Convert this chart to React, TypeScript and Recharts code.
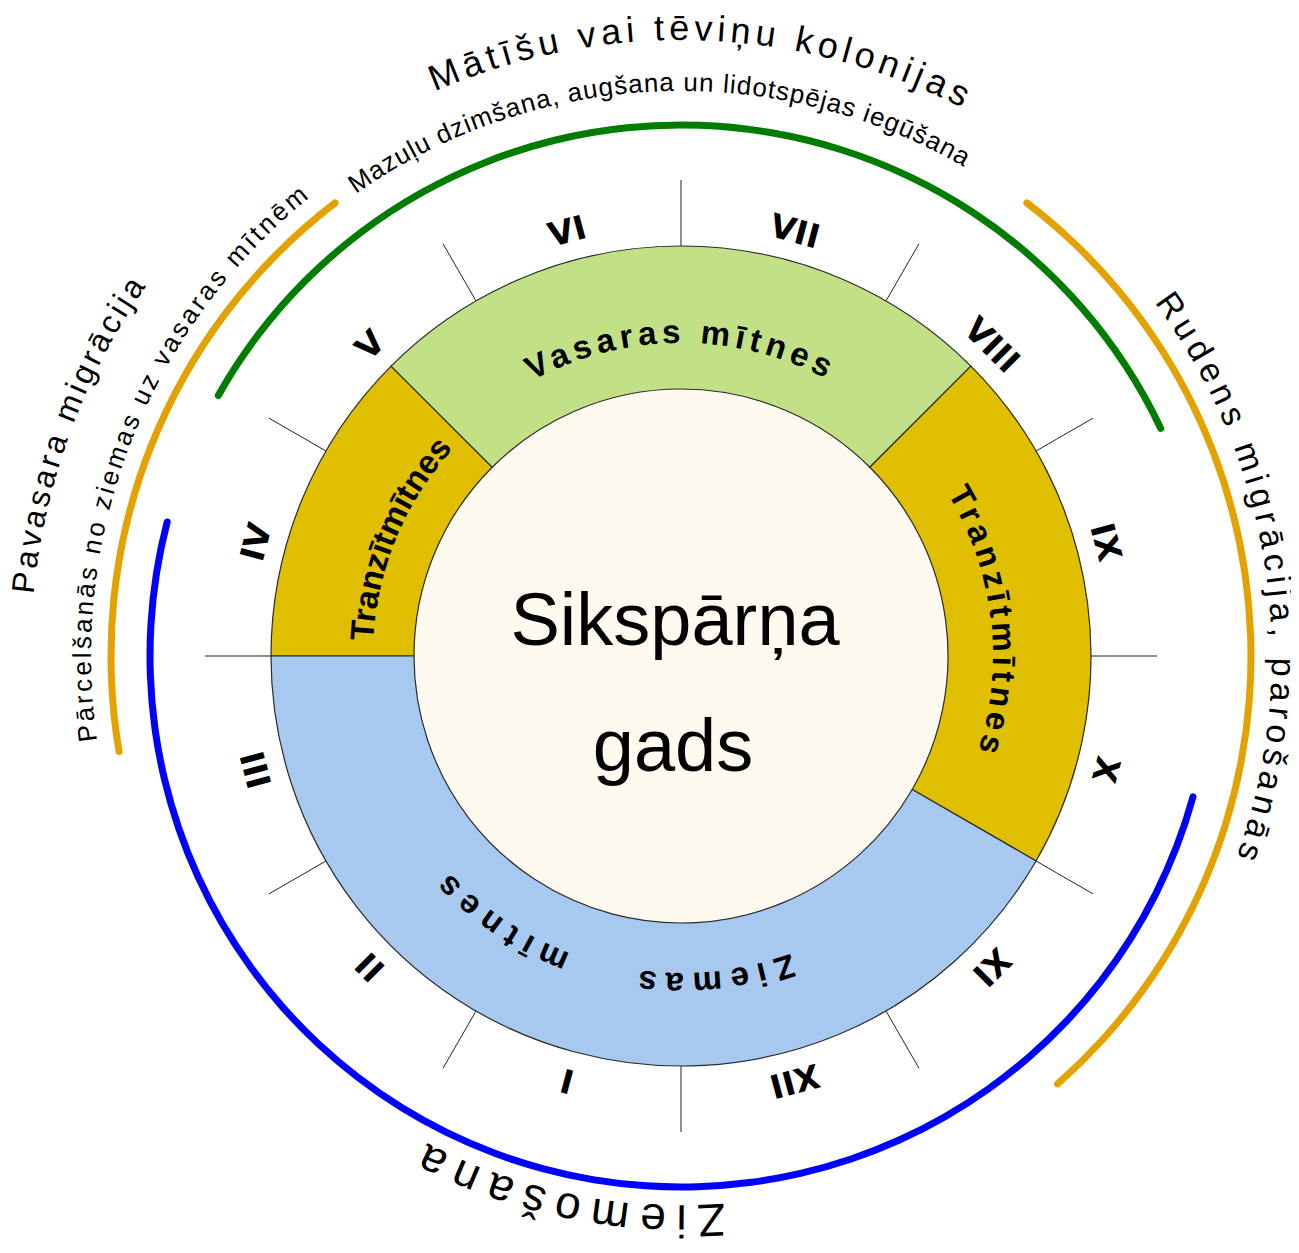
import React from "react";
import { PieChart, Pie, Cell } from "recharts";

// habitat ring, clockwise from the left horizontal
const habitatNames = ["Tranzītmītnes", "Vasaras mītnes", "Tranzītmītnes", "Ziemas mītnes"];
const habitatDegrees = [45, 90, 75, 150];

const monthNames = ["I", "II", "III", "IV", "V", "VI", "VII", "VIII", "IX", "X", "XI", "XII"];

// inner activity arcs, clockwise from the colony arc; "" = gap
const activityNames = ["Mātīšu vai tēviņu kolonijas", "", "Ziemošana", ""];
const activityNotes = ["Mazuļu dzimšana, augšana un lidotspējas iegūšana", "", "", ""];
const activityDegrees = [126, 40, 180, 14];

// outer migration arcs, clockwise from the autumn arc; "" = gap
const migrationNames = ["Rudens migrācija, pārošanās", "", "Pavasara migrācija", ""];
const migrationNotes = ["", "", "Pārcelšanās no ziemas uz vasaras mītnēm", ""];
const migrationDegrees = [102, 121, 63, 74];

const centerTitle = ["Sikspārņa", "gads"];

const W = 1299;
const H = 1253;
const CX = 681;
const CY = 656;
const RAD = Math.PI / 180;
const SANS = "'Liberation Sans', Arial, sans-serif";
const DEJA = "'DejaVu Sans', Verdana, sans-serif";

const habitatColors = ["#DFBF00", "#C2E085", "#DFBF00", "#A7C9EF"];
const activityColors = ["#007D00", "none", "#0000FF", "none"];
const migrationColors = ["#E3A200", "none", "#E3A200", "none"];

// text styles per arc index
const habitatText = [
  { rc: 318, fs: 33, ls: 0, ws: 0, shift: 0 },
  { rc: 323, fs: 33, ls: 5, ws: 0, shift: 0 },
  { rc: 322, fs: 33, ls: 4.5, ws: 0, shift: -1 },
  { rc: 327, fs: 33, ls: 8, ws: 46, shift: 1 },
];
const activityText = [
  { rc: 627, fs: 36, ls: 4.8, shift: 0, noteRc: 573, noteFs: 26, noteLs: 1, noteShift: 4.5 },
  null,
  { rc: 563, fs: 46, ls: 10, shift: 3 },
  null,
];
const migrationText = [
  { rc: 601, fs: 34, ls: 5.5, shift: 6.2 },
  null,
  { rc: 660, fs: 32, ls: 3.5, shift: 1.3, noteRc: 598, noteFs: 26, noteLs: 3, noteShift: 0 },
  null,
];

const polar = (cx: number, cy: number, r: number, a: number) => ({
  x: cx + r * Math.cos(-a * RAD),
  y: cy + r * Math.sin(-a * RAD),
});

// clockwise arc path centred on angle `mid`
function cwArc(cx: number, cy: number, r: number, mid: number) {
  const p1 = polar(cx, cy, r, mid + 90);
  const p2 = polar(cx, cy, r, mid - 90);
  return `M ${p1.x} ${p1.y} A ${r} ${r} 0 0 1 ${p2.x} ${p2.y}`;
}

function ArcText(props: any) {
  const { id, cx, cy, rc, mid, text, fs, ls = 0, ws = 0, family = SANS, weight = "normal" } = props;
  const r = rc - fs * 0.3;
  return (
    <g>
      <path id={id} d={cwArc(cx, cy, r, mid)} fill="none" stroke="none" />
      <text
        fontFamily={family}
        fontWeight={weight}
        fontSize={fs}
        letterSpacing={ls}
        wordSpacing={ws}
        fill="#000"
      >
        <textPath href={`#${id}`} startOffset="50%" textAnchor="middle">
          {text}
        </textPath>
      </text>
    </g>
  );
}

const renderHabitatLabel = (p: any) => {
  const s = habitatText[p.index];
  return (
    <ArcText
      id={`habitat-${p.index}`}
      cx={p.cx}
      cy={p.cy}
      rc={s.rc}
      mid={p.midAngle + s.shift}
      text={habitatNames[p.index]}
      fs={s.fs}
      ls={s.ls}
      ws={s.ws}
      weight="bold"
    />
  );
};

const renderMonthLabel = (p: any) => {
  const a = polar(p.cx, p.cy, p.innerRadius, p.startAngle);
  const b = polar(p.cx, p.cy, p.outerRadius, p.startAngle);
  const t = polar(p.cx, p.cy, p.innerRadius + 30, p.midAngle);
  return (
    <g>
      <line x1={a.x} y1={a.y} x2={b.x} y2={b.y} stroke="#222" strokeWidth={1} />
      <text
        x={t.x}
        y={t.y}
        transform={`rotate(${90 - p.midAngle} ${t.x} ${t.y})`}
        textAnchor="middle"
        dominantBaseline="central"
        fontFamily={DEJA}
        fontWeight="bold"
        fontSize={33}
        fill="#000"
      >
        {monthNames[p.index]}
      </text>
    </g>
  );
};

const makeArcLabel = (prefix: string, names: string[], notes: string[], styles: any[]) => (p: any) => {
  const s = styles[p.index];
  if (!s || !names[p.index]) return <g />;
  return (
    <g>
      <ArcText
        id={`${prefix}-${p.index}`}
        cx={p.cx}
        cy={p.cy}
        rc={s.rc}
        mid={p.midAngle + s.shift}
        text={names[p.index]}
        fs={s.fs}
        ls={s.ls}
      />
      {notes[p.index] ? (
        <ArcText
          id={`${prefix}-note-${p.index}`}
          cx={p.cx}
          cy={p.cy}
          rc={s.noteRc}
          mid={p.midAngle + s.noteShift}
          text={notes[p.index]}
          fs={s.noteFs}
          ls={s.noteLs}
        />
      ) : null}
    </g>
  );
};

const renderCenterLabel = (p: any) => (
  <g fontFamily={SANS} fontSize={74} fill="#000" textAnchor="middle">
    <text x={p.cx - 6} y={p.cy - 11}>
      {centerTitle[0]}
    </text>
    <text x={p.cx - 8} y={p.cy + 115}>
      {centerTitle[1]}
    </text>
  </g>
);

export default function App() {
  const habitatData = habitatNames.map((name, i) => ({ name, value: habitatDegrees[i] }));
  const monthData = monthNames.map((name) => ({ name, value: 1 }));
  const activityData = activityNames.map((name, i) => ({ name, value: activityDegrees[i] }));
  const migrationData = migrationNames.map((name, i) => ({ name, value: migrationDegrees[i] }));
  const centerData = [{ name: centerTitle.join(" "), value: 1 }];

  return (
    <div style={{ width: W, height: H, margin: -8, background: "#fff" }}>
      <PieChart width={W} height={H} margin={{ top: 0, right: 0, bottom: 0, left: 0 }}>
        <Pie
          data={centerData}
          dataKey="value"
          cx={CX}
          cy={CY}
          innerRadius={0}
          outerRadius={267}
          fill="#FFFAF0"
          stroke="none"
          isAnimationActive={false}
          label={renderCenterLabel}
          labelLine={false}
        />
        <Pie
          data={habitatData}
          dataKey="value"
          nameKey="name"
          cx={CX}
          cy={CY}
          innerRadius={267}
          outerRadius={410}
          startAngle={180}
          endAngle={-180}
          stroke="#2a2a2a"
          strokeWidth={1.2}
          isAnimationActive={false}
          label={renderHabitatLabel}
          labelLine={false}
        >
          {habitatData.map((d, i) => (
            <Cell key={d.name + i} fill={habitatColors[i]} />
          ))}
        </Pie>
        <Pie
          data={monthData}
          dataKey="value"
          cx={CX}
          cy={CY}
          innerRadius={410}
          outerRadius={476}
          startAngle={270}
          endAngle={-90}
          fill="none"
          stroke="none"
          isAnimationActive={false}
          label={renderMonthLabel}
          labelLine={false}
        />
        <Pie
          data={activityData}
          dataKey="value"
          cx={CX}
          cy={CY}
          innerRadius={527.5}
          outerRadius={534.5}
          cornerRadius={3.5}
          startAngle={151}
          endAngle={-209}
          stroke="none"
          isAnimationActive={false}
          label={makeArcLabel("activity", activityNames, activityNotes, activityText)}
          labelLine={false}
        >
          {activityData.map((d, i) => (
            <Cell key={i} fill={activityColors[i]} />
          ))}
        </Pie>
        <Pie
          data={migrationData}
          dataKey="value"
          cx={CX}
          cy={CY}
          innerRadius={566.5}
          outerRadius={573.5}
          cornerRadius={3.5}
          startAngle={53}
          endAngle={-307}
          stroke="none"
          isAnimationActive={false}
          label={makeArcLabel("migration", migrationNames, migrationNotes, migrationText)}
          labelLine={false}
        >
          {migrationData.map((d, i) => (
            <Cell key={i} fill={migrationColors[i]} />
          ))}
        </Pie>
      </PieChart>
    </div>
  );
}
